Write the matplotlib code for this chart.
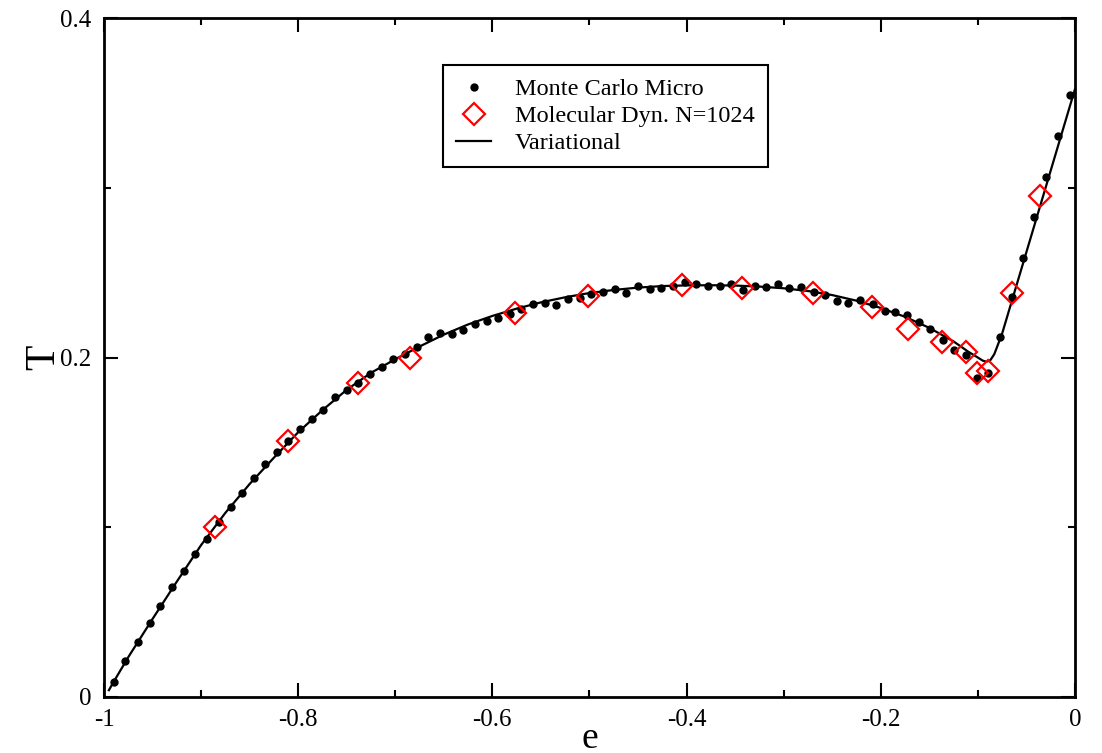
import matplotlib
matplotlib.use('Agg')
import matplotlib.pyplot as plt
from matplotlib.ticker import MultipleLocator, FuncFormatter

plt.rcParams['font.family'] = ['Liberation Serif', 'DejaVu Serif']
plt.rcParams['axes.unicode_minus'] = False

# Monte Carlo microcanonical points
e_mc = [-0.990, -0.978, -0.965, -0.953, -0.942, -0.930, -0.918, -0.906, -0.894, -0.882,
        -0.869, -0.858, -0.846, -0.834, -0.822, -0.810, -0.798, -0.786, -0.774, -0.762,
        -0.750, -0.738, -0.726, -0.714, -0.702, -0.690, -0.678, -0.666, -0.654, -0.642,
        -0.630, -0.618, -0.606, -0.594, -0.582, -0.570, -0.558, -0.546, -0.534, -0.522,
        -0.510, -0.498, -0.486, -0.474, -0.462, -0.450, -0.438, -0.426, -0.414, -0.402,
        -0.390, -0.378, -0.366, -0.354, -0.342, -0.330, -0.318, -0.306, -0.294, -0.282,
        -0.269, -0.257, -0.245, -0.234, -0.221, -0.208, -0.196, -0.185, -0.173, -0.161,
        -0.149, -0.136, -0.125, -0.112, -0.101, -0.089, -0.077, -0.065, -0.053, -0.042,
        -0.030, -0.017, -0.005]
T_mc = [0.0090, 0.0212, 0.0322, 0.0433, 0.0538, 0.0646, 0.0744, 0.0845, 0.0930, 0.1030,
        0.1120, 0.1200, 0.1290, 0.1370, 0.1445, 0.1510, 0.1580, 0.1635, 0.1690, 0.1765,
        0.1810, 0.1850, 0.1900, 0.1945, 0.1990, 0.2020, 0.2060, 0.2120, 0.2145, 0.2140,
        0.2165, 0.2200, 0.2216, 0.2234, 0.2255, 0.2283, 0.2318, 0.2322, 0.2309, 0.2342,
        0.2348, 0.2375, 0.2387, 0.2401, 0.2383, 0.2420, 0.2401, 0.2407, 0.2420, 0.2446,
        0.2436, 0.2420, 0.2420, 0.2436, 0.2400, 0.2420, 0.2413, 0.2432, 0.2407, 0.2416,
        0.2388, 0.2367, 0.2334, 0.2322, 0.2338, 0.2318, 0.2275, 0.2266, 0.2250, 0.2210,
        0.2171, 0.2102, 0.2043, 0.2014, 0.1877, 0.1907, 0.2120, 0.2356, 0.2586, 0.2829,
        0.3065, 0.3307, 0.3545]

# Molecular dynamics, N=1024
e_md = [-0.886, -0.810, -0.738, -0.685, -0.577, -0.501, -0.405, -0.343, -0.270, -0.209,
        -0.172, -0.137, -0.112, -0.101, -0.089, -0.065, -0.036]
T_md = [0.100, 0.151, 0.185, 0.200, 0.226, 0.236, 0.2426, 0.2407, 0.2378, 0.230,
        0.217, 0.209, 0.203, 0.191, 0.192, 0.238, 0.295]

# Variational curve
e_var = [-0.995, -0.990, -0.975, -0.950, -0.925, -0.900, -0.875, -0.850, -0.825, -0.800,
         -0.775, -0.750, -0.725, -0.700, -0.675, -0.650, -0.625, -0.600, -0.575, -0.550,
         -0.525, -0.500, -0.475, -0.450, -0.425, -0.400, -0.375, -0.350, -0.325, -0.300,
         -0.275, -0.250, -0.225, -0.200, -0.175, -0.150, -0.125, -0.110, -0.100, -0.095,
         -0.091, -0.087, -0.083, -0.075, 0.000]
T_var = [0.004, 0.009, 0.0235, 0.046, 0.068, 0.0895, 0.1085, 0.1255, 0.1410, 0.1560,
         0.1690, 0.1810, 0.1910, 0.1990, 0.2065, 0.2135, 0.2195, 0.2245, 0.2288, 0.2325,
         0.2355, 0.2380, 0.2398, 0.2412, 0.2421, 0.2425, 0.2426, 0.2424, 0.2418, 0.2408,
         0.2392, 0.2368, 0.2335, 0.2292, 0.2240, 0.2175, 0.2095, 0.2035, 0.2000, 0.1982,
         0.1975, 0.1985, 0.2020, 0.2140, 0.3580]

fig = plt.figure(figsize=(11.02, 7.53), dpi=100)
ax = fig.add_axes([0.0944, 0.0744, 0.881, 0.9016])

ax.plot(e_mc, T_mc, 'o', color='black', ms=5, label='Monte Carlo Micro', zorder=3)
ax.plot(e_md, T_md, 'D', mfc='none', mec='red', mew=1.6, ms=11,
        label='Molecular Dyn. N=1024', zorder=4)
ax.plot(e_var, T_var, '-', color='black', lw=1.6, label='Variational', zorder=2)

ax.set_xlim(-1, 0)
ax.set_ylim(0, 0.4)
ax.xaxis.set_major_locator(MultipleLocator(0.2))
ax.xaxis.set_minor_locator(MultipleLocator(0.1))
ax.yaxis.set_major_locator(MultipleLocator(0.2))
ax.yaxis.set_minor_locator(MultipleLocator(0.1))
ax.xaxis.set_major_formatter(FuncFormatter(lambda v, p: '%g' % round(v, 2)))
ax.yaxis.set_major_formatter(FuncFormatter(lambda v, p: '%g' % round(v, 2)))

ax.tick_params(which='both', direction='in', top=True, right=True, width=1.5)
ax.tick_params(which='major', length=10, labelsize=18, pad=9)
ax.tick_params(which='minor', length=5)
for s in ax.spines.values():
    s.set_linewidth(2)

ax.set_xlabel('e', fontsize=27, labelpad=-7)
ax.set_ylabel('T', fontsize=30, labelpad=-2)

leg = ax.legend(loc='upper left', bbox_to_anchor=(0.349, 0.931), borderaxespad=0,
                fontsize=17.5, frameon=True, fancybox=False, edgecolor='black',
                framealpha=1, handlelength=1.45, handletextpad=0.95, borderpad=0.55,
                labelspacing=0.2, numpoints=1)
leg.get_frame().set_linewidth(1.5)

fig.savefig('out.png', dpi=100)
